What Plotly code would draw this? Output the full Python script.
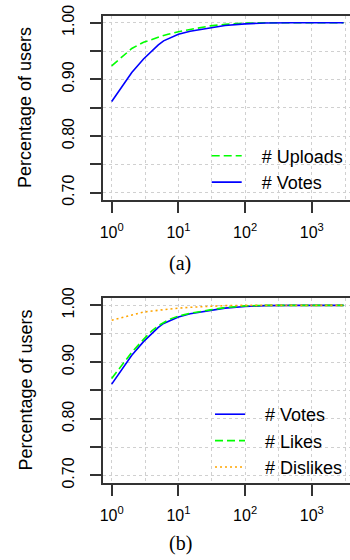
import plotly.graph_objects as go

# Count thresholds (x) and cumulative share of users at or below each count
counts = [1, 2, 3, 4, 5, 6, 7, 8, 9, 10, 15, 20, 30, 50, 100, 200, 500, 1000, 3000]

votes = [0.861, 0.912, 0.936, 0.951, 0.961, 0.968, 0.9715, 0.975, 0.9775, 0.9795,
         0.985, 0.9877, 0.9915, 0.995, 0.998, 0.9995, 1.0, 1.0, 1.0]
uploads = [0.924, 0.9545, 0.9655, 0.971, 0.975, 0.9775, 0.9797, 0.9814, 0.9828, 0.984,
           0.988, 0.9912, 0.9945, 0.997, 0.9993, 1.0, 1.0, 1.0, 1.0]
likes = [0.871, 0.917, 0.940, 0.955, 0.964, 0.970, 0.974, 0.977, 0.979, 0.981,
         0.986, 0.989, 0.992, 0.996, 0.999, 1.0, 1.0, 1.0, 1.0]
dislikes = [0.9735, 0.9835, 0.988, 0.990, 0.9915, 0.9925, 0.9935, 0.994, 0.9945, 0.995,
            0.9965, 0.9975, 0.9988, 0.9995, 1.0, 1.0, 1.0, 1.0, 1.0]

y_major = [0.70, 0.80, 0.90, 1.00]
y_major_text = ["0.70", "0.80", "0.90", "1.00"]
y_minor = [0.75, 0.85, 0.95]
x_major = [1, 10, 100, 1000]
x_major_text = ["10<sup>0</sup>", "10<sup>1</sup>", "10<sup>2</sup>", "10<sup>3</sup>"]
x_minor = [10 ** 0.5, 10 ** 1.5, 10 ** 2.5, 10 ** 3.5]

BLUE = "#0000ff"
GREEN = "#00ff00"
ORANGE = "#ffa500"
FONT = "Liberation Sans, Arial, sans-serif"
AXIS = "#333333"
GRID = "#d0d0d0"
GAP = "\u00a0\u00a0\u00a0"  # space between legend sample and its label

fig = go.Figure()

# Panel (a)
fig.add_trace(go.Scatter(x=counts, y=uploads, mode="lines", name=GAP + "# Uploads",
                         line=dict(color=GREEN, width=1.6, dash="8px,4px"),
                         xaxis="x", yaxis="y", legend="legend"))
fig.add_trace(go.Scatter(x=counts, y=votes, mode="lines", name=GAP + "# Votes",
                         line=dict(color=BLUE, width=1.6),
                         xaxis="x", yaxis="y", legend="legend"))

# Panel (b)
fig.add_trace(go.Scatter(x=counts, y=votes, mode="lines", name=GAP + "# Votes",
                         line=dict(color=BLUE, width=1.6),
                         xaxis="x2", yaxis="y2", legend="legend2"))
fig.add_trace(go.Scatter(x=counts, y=likes, mode="lines", name=GAP + "# Likes",
                         line=dict(color=GREEN, width=1.6, dash="8px,4px"),
                         xaxis="x2", yaxis="y2", legend="legend2"))
fig.add_trace(go.Scatter(x=counts, y=dislikes, mode="lines", name=GAP + "# Dislikes",
                         line=dict(color=ORANGE, width=1.6, dash="2px,3px"),
                         xaxis="x2", yaxis="y2", legend="legend2"))

W, H, L = 350, 560, 103
px_per_decade = 66.7
x0_px = 111.7
x_range = [(L - x0_px) / px_per_decade, (W - x0_px) / px_per_decade]
y_range = [0.6871, 1.0124]


def xaxis_style(anchor):
    return dict(
        type="log", range=x_range, domain=[0, 1], anchor=anchor, automargin=False,
        tickvals=x_major, ticktext=x_major_text,
        ticks="outside", ticklen=11, tickwidth=1.5, tickcolor=AXIS,
        ticklabelstandoff=6,
        showline=True, linecolor=AXIS, linewidth=1.8, mirror=True,
        showgrid=True, gridcolor=GRID, griddash="3px,3px", gridwidth=1,
        minor=dict(tickvals=x_minor, ticks="", showgrid=True,
                   gridcolor=GRID, griddash="3px,3px", gridwidth=1),
        zeroline=False, tickfont=dict(family=FONT, size=16, color="black"),
    )


def yaxis_style(anchor, domain):
    return dict(
        range=y_range, domain=domain, anchor=anchor, automargin=False,
        tickvals=y_major, ticktext=y_major_text, tickangle=-90,
        ticks="outside", ticklen=11, tickwidth=1.5, tickcolor=AXIS,
        ticklabelstandoff=10,
        showline=True, linecolor=AXIS, linewidth=1.8, mirror=False,
        showgrid=True, gridcolor=GRID, griddash="3px,3px", gridwidth=1,
        minor=dict(tickvals=y_minor, ticks="outside", ticklen=11,
                   tickwidth=1.5, tickcolor=AXIS, showgrid=True,
                   gridcolor=GRID, griddash="3px,3px", gridwidth=1),
        zeroline=False, tickfont=dict(family=FONT, size=16, color="black"),
    )


dom_a = [1 - 200 / H, 1 - 15.7 / H]
dom_b = [1 - 482.7 / H, 1 - 298.3 / H]


def legend_style(x_px, y_px):
    return dict(
        x=(x_px - L) / (W - L), y=1 - y_px / H, xanchor="left", yanchor="top",
        bgcolor="rgba(0,0,0,0)", borderwidth=0,
        font=dict(family=FONT, size=18, color="black"),
        tracegroupgap=0, itemwidth=30,
    )


annotations = []
for yc in [108, 390.5]:
    annotations.append(dict(
        text="Percentage of users", xref="paper", yref="paper",
        x=(25 - L) / (W - L), y=1 - yc / H, xanchor="center", yanchor="middle",
        textangle=-90, showarrow=False,
        font=dict(family=FONT, size=18, color="black"),
    ))
for label, yc in [("(a)", 263), ("(b)", 543)]:
    annotations.append(dict(
        text=label, xref="paper", yref="paper",
        x=(180 - L) / (W - L), y=1 - yc / H, xanchor="center", yanchor="middle",
        showarrow=False,
        font=dict(family="Liberation Serif, Times New Roman, serif", size=20,
                  color="black"),
    ))

fig.update_layout(
    width=W, height=H,
    margin=dict(l=L, r=0, t=0, b=0, autoexpand=False),
    paper_bgcolor="white", plot_bgcolor="white",
    xaxis=xaxis_style("y"),
    yaxis=yaxis_style("x", dom_a),
    xaxis2=xaxis_style("y2"),
    yaxis2=yaxis_style("x2", dom_b),
    legend=legend_style(206.7, 137.5),
    legend2=legend_style(210, 396),
    annotations=annotations,
    showlegend=True,
)

fig.write_html("out.html")
